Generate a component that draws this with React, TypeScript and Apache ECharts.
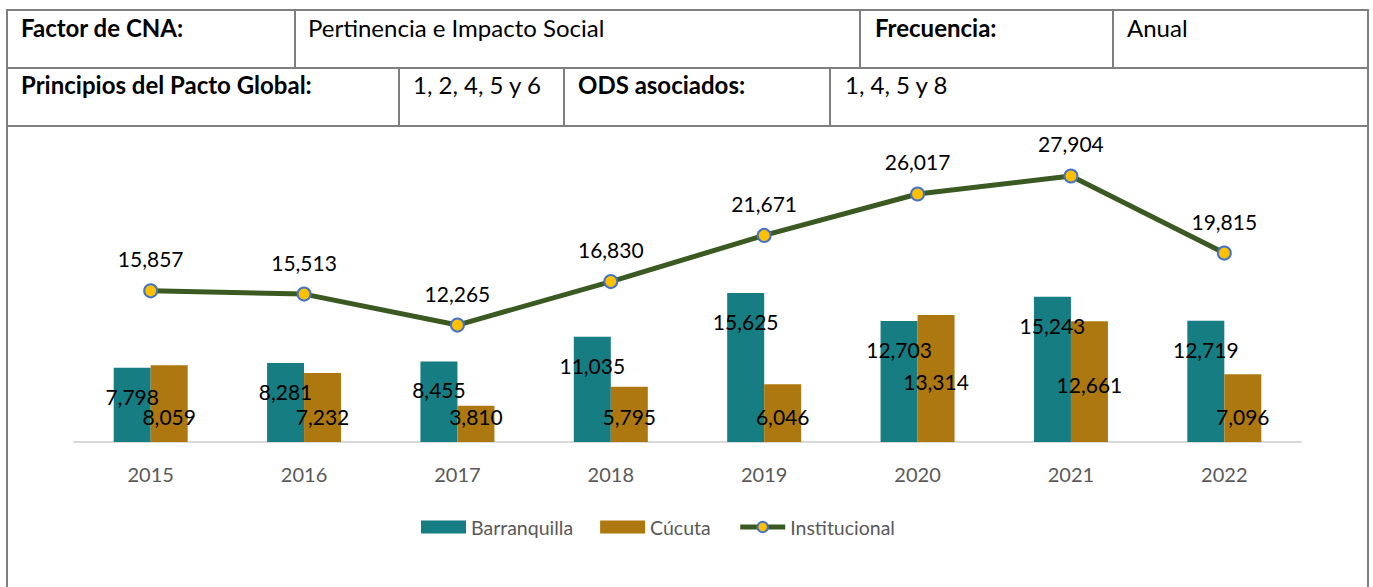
import React, { useEffect, useRef } from "react";
import * as echarts from "echarts";

const years = ["2015", "2016", "2017", "2018", "2019", "2020", "2021", "2022"];
const barranquilla = [7798, 8281, 8455, 11035, 15625, 12703, 15243, 12719];
const cucuta = [8059, 7232, 3810, 5795, 6046, 13314, 12661, 7096];
const institucional = [15857, 15513, 12265, 16830, 21671, 26017, 27904, 19815];

const tableCells = [
  { text: "Factor de CNA:", bold: true, x: 21, row: 0 },
  { text: "Pertinencia e Impacto Social", bold: false, x: 308, row: 0 },
  { text: "Frecuencia:", bold: true, x: 875, row: 0 },
  { text: "Anual", bold: false, x: 1127, row: 0 },
  { text: "Principios del Pacto Global:", bold: true, x: 21, row: 1 },
  { text: "1, 2, 4, 5 y 6", bold: false, x: 413, row: 1 },
  { text: "ODS asociados:", bold: true, x: 578, row: 1 },
  { text: "1, 4, 5 y 8", bold: false, x: 845, row: 1 },
];

const FONT = "Lato, 'Noto Sans', sans-serif";
const fmt = (p: any) => Number(p.value).toLocaleString("en-US");

export default function App() {
  const ref = useRef<HTMLDivElement>(null);
  useEffect(() => {
    if (!ref.current) return;
    const chart = echarts.init(ref.current, null, { renderer: "svg" });
    const lineColor = "#7f7f7f";
    const L = (x1: number, y1: number, x2: number, y2: number) => ({
      type: "line",
      shape: { x1, y1, x2, y2 },
      style: { stroke: lineColor, lineWidth: 2 },
      silent: true,
    });
    const rowY = [27, 84];
    const graphics: any[] = [
      L(6, 10, 1369, 10),
      L(7, 10, 7, 590),
      L(1368, 10, 1368, 590),
      L(7, 68, 1368, 68),
      L(7, 126, 1368, 126),
      L(295, 10, 295, 68),
      L(860, 10, 860, 68),
      L(1113, 10, 1113, 68),
      L(399, 68, 399, 126),
      L(564, 68, 564, 126),
      L(830, 68, 830, 126),
      ...tableCells.map((c) => ({
        type: "text",
        x: c.x,
        y: rowY[c.row],
        silent: true,
        style: {
          text: c.text,
          fill: "#000",
          font: `${c.bold ? "bold " : ""}24px ${FONT}`,
          textVerticalAlign: "middle",
          textAlign: "left",
        },
      })),
    ];
    chart.setOption({
      animation: false,
      backgroundColor: "#ffffff",
      textStyle: { fontFamily: FONT },
      graphic: graphics,
      grid: { left: 74, right: 72, top: 156, bottom: 145 },
      legend: {
        left: 416,
        top: 512,
        itemGap: 27,
        itemWidth: 45,
        itemHeight: 13,
        textStyle: { color: "#595959", fontSize: 19.5, fontFamily: FONT },
        data: [
          { name: "Barranquilla", icon: "rect" },
          { name: "Cúcuta", icon: "rect" },
          { name: "Institucional", lineStyle: { width: 5 } },
        ],
      },
      xAxis: {
        type: "category",
        data: years,
        axisLine: { lineStyle: { color: "#d9d9d9", width: 2 } },
        axisTick: { show: false },
        axisLabel: { color: "#595959", fontSize: 20, margin: 22, fontFamily: FONT },
      },
      yAxis: {
        type: "value",
        min: 0,
        max: 30000,
        show: false,
        splitLine: { show: false },
      },
      series: [
        {
          name: "Barranquilla",
          type: "bar",
          data: barranquilla,
          barWidth: 37,
          barGap: "0%",
          itemStyle: { color: "#167D83" },
          label: {
            show: true,
            position: "insideTop",
            distance: 5,
            offset: [0, 13],
            color: "#000",
            fontSize: 21,
            fontFamily: FONT,
            formatter: fmt,
          },
        },
        {
          name: "Cúcuta",
          type: "bar",
          data: cucuta.map((v) => ({
            value: v,
            label:
              v > 10000
                ? { position: "inside", offset: [0, 3] }
                : { position: "insideBottom", distance: 15, offset: [0, 0] },
          })),
          barWidth: 37,
          barGap: "0%",
          itemStyle: { color: "#AD7810" },
          label: {
            show: true,
            color: "#000",
            fontSize: 21,
            fontFamily: FONT,
            formatter: fmt,
          },
        },
        {
          name: "Institucional",
          type: "line",
          data: institucional,
          z: 5,
          symbol: "circle",
          symbolSize: 13,
          lineStyle: { color: "#3B5A22", width: 5 },
          itemStyle: { color: "#FFC000", borderColor: "#4472C4", borderWidth: 2 },
          label: {
            show: true,
            position: "top",
            distance: 14,
            color: "#000",
            fontSize: 21,
            fontFamily: FONT,
            formatter: fmt,
          },
        },
      ],
    });
    return () => chart.dispose();
  }, []);
  return (
    <div
      ref={ref}
      style={{ position: "absolute", left: 0, top: 0, width: 1373, height: 587, background: "#fff" }}
    />
  );
}
